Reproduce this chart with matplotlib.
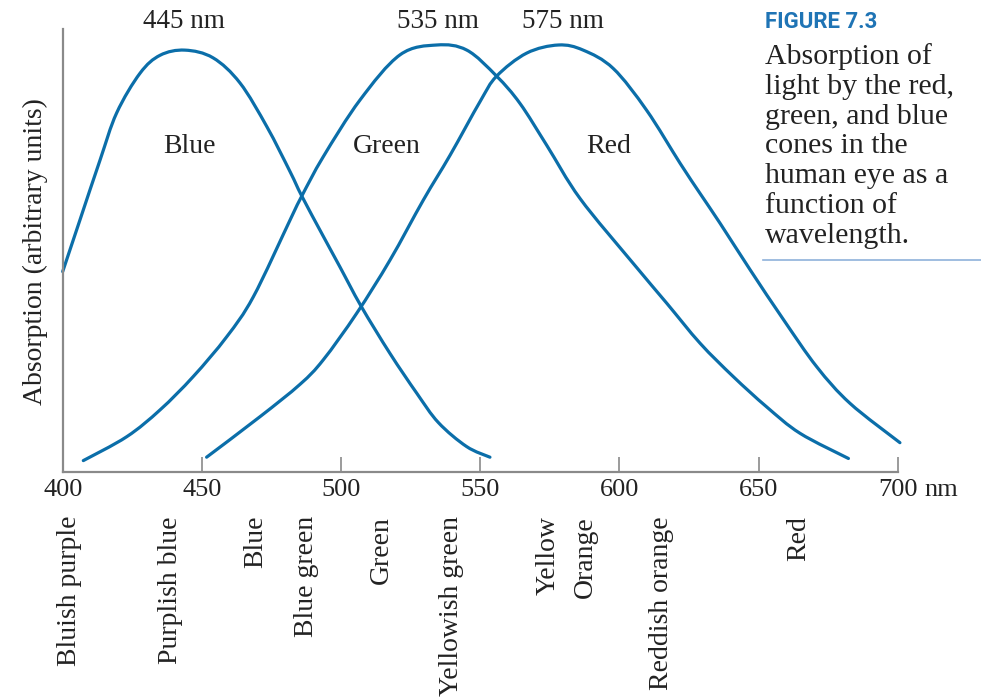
import matplotlib
matplotlib.use("Agg")
import matplotlib.pyplot as plt
from matplotlib.lines import Line2D
from matplotlib.path import Path
from matplotlib.patches import PathPatch

# ---- data (wavelength nm, absorption arbitrary units) ----
blue_nm = [400.0, 406.2, 413.4, 419.4, 427.8, 435.0, 443.9, 454.0, 463.7, 473.4,
           481.7, 485.9, 493.6, 499.6, 507.2, 517.6, 527.2, 535.0, 545.1, 553.5]
blue_abs = [0.469, 0.590, 0.730, 0.841, 0.934, 0.976, 0.988, 0.970, 0.911, 0.808,
            0.703, 0.646, 0.552, 0.480, 0.388, 0.277, 0.184, 0.115, 0.059, 0.034]

green_nm = [407.4, 423.0, 435.0, 446.9, 458.9, 468.5, 481.7, 485.9, 493.6, 506.8,
            521.2, 534.4, 545.2, 555.9, 564.3, 573.9, 585.9, 605.0, 617.0, 629.0,
            640.9, 652.9, 664.9, 682.3]
green_abs = [0.026, 0.082, 0.145, 0.223, 0.316, 0.410, 0.590, 0.646, 0.738, 0.871,
             0.977, 1.000, 0.988, 0.927, 0.863, 0.765, 0.640, 0.488, 0.395, 0.301,
             0.223, 0.152, 0.090, 0.031]

red_nm = [451.7, 470.9, 485.3, 493.6, 505.6, 517.6, 529.6, 539.2, 550.0, 555.9,
          566.7, 578.1, 587.0, 597.8, 609.8, 621.8, 629.0, 636.2, 647.0, 659.0,
          670.9, 682.9, 700.8]
red_abs = [0.034, 0.129, 0.205, 0.262, 0.371, 0.496, 0.637, 0.742, 0.868, 0.927,
           0.981, 1.000, 0.988, 0.945, 0.847, 0.723, 0.652, 0.582, 0.473, 0.356,
           0.246, 0.160, 0.068]

cone_names = ["Blue", "Green", "Red"]
cone_label_nm = [445.4, 516.5, 596.3]
cone_label_y = [0.763, 0.763, 0.763]

peak_labels = ["445 nm", "535 nm", "575 nm"]
peak_label_nm = [443.6, 534.9, 579.7]

xtick_values = [400, 450, 500, 550, 600, 650, 700]
xtick_labels = ["400", "450", "500", "550", "600", "650", "700"]

band_names = ["Bluish purple", "Purplish blue", "Blue", "Blue green", "Green",
              "Yellowish green", "Yellow", "Orange", "Reddish orange", "Red"]
band_nm = [402.6, 438.6, 469.5, 487.7, 514.6, 539.8, 574.5, 587.7, 615.2, 664.3]

caption_title = "FIGURE 7.3"
caption_text = ("Absorption of\nlight by the red,\ngreen, and blue\ncones in the\n"
                "human eye as a\nfunction of\nwavelength.")

# ---- styling ----
W, H = 981, 700
SERIF = ["Liberation Serif", "DejaVu Serif"]
CURVE = "#0b6ea9"
TEXT = "#222222"
SPINE = "#8a8a8a"


def smooth_path(xs, ys):
    """Catmull-Rom spline through the read points, drawn as cubic Bezier segments."""
    pts = list(zip(xs, ys))
    n = len(pts)
    verts = [pts[0]]
    codes = [Path.MOVETO]
    for i in range(n - 1):
        p0 = pts[i - 1] if i > 0 else pts[i]
        p1 = pts[i]
        p2 = pts[i + 1]
        p3 = pts[i + 2] if i + 2 < n else pts[i + 1]
        c1 = (p1[0] + (p2[0] - p0[0]) / 6, p1[1] + (p2[1] - p0[1]) / 6)
        c2 = (p2[0] - (p3[0] - p1[0]) / 6, p2[1] - (p3[1] - p1[1]) / 6)
        verts += [c1, c2, p2]
        codes += [Path.CURVE4] * 3
    return Path(verts, codes)


fig = plt.figure(figsize=(W / 100, H / 100), dpi=100)
ax_left, ax_right, ax_bottom, ax_top = 62.7, 897.7, 471.7, 29.0
ax = fig.add_axes([ax_left / W, 1 - ax_bottom / H,
                   (ax_right - ax_left) / W, (ax_bottom - ax_top) / H])
ax.set_xlim(400, 700)
ax.set_ylim(0, (ax_bottom - ax_top) / 426.7)

for nm, a in [(blue_nm, blue_abs), (green_nm, green_abs), (red_nm, red_abs)]:
    patch = PathPatch(smooth_path(nm, a), facecolor="none", edgecolor=CURVE,
                      lw=2.3, capstyle="round", transform=ax.transData,
                      clip_on=False)
    ax.add_patch(patch)

for s in ["top", "right"]:
    ax.spines[s].set_visible(False)
for s in ["left", "bottom"]:
    ax.spines[s].set_color(SPINE)
    ax.spines[s].set_linewidth(1.6)

ax.set_yticks([])
ax.set_xticks(xtick_values)
ax.set_xticklabels(xtick_labels, fontfamily=SERIF, fontsize=19, color=TEXT)
ax.tick_params(axis="x", direction="in", length=11, width=1.2, colors=SPINE,
               labelcolor=TEXT, pad=5)
ax.text(709.5, -7 / 426.7, "nm", ha="left", va="top", fontfamily=SERIF,
        fontsize=19, color=TEXT, clip_on=False)

for name, x, y in zip(cone_names, cone_label_nm, cone_label_y):
    ax.text(x, y, name, ha="center", va="center", fontfamily=SERIF, fontsize=20,
            color=TEXT)

for lab, x in zip(peak_labels, peak_label_nm):
    ax.text(x, (ax_bottom - 21) / 426.7, lab, ha="center", va="center",
            fontfamily=SERIF, fontsize=19.5, color=TEXT, clip_on=False)

for name, x in zip(band_names, band_nm):
    ax.text(x, -(516 - ax_bottom) / 426.7, name, rotation=90, ha="center",
            va="top", fontfamily=SERIF, fontsize=20, color=TEXT, clip_on=False)

fig.text(35 / W, 1 - 251.5 / H, "Absorption (arbitrary units)", rotation=90,
         ha="center", va="center", fontfamily=SERIF, fontsize=20, color=TEXT)

# caption
fig.text(765 / W, 1 - 21.7 / H, caption_title, ha="left", va="center",
         fontfamily=["Roboto", "DejaVu Sans"], fontweight="bold",
         fontsize=16, color="#1f74b5")
fig.text(765 / W, 1 - 43 / H, caption_text, ha="left", va="top",
         fontfamily=SERIF, fontsize=21.5, color=TEXT, linespacing=1.19)
fig.add_artist(Line2D([763 / W, 1.0], [1 - 260 / H, 1 - 260 / H],
                      transform=fig.transFigure, color="#8fb1da", lw=1.2))

fig.savefig("out.png", dpi=100)
